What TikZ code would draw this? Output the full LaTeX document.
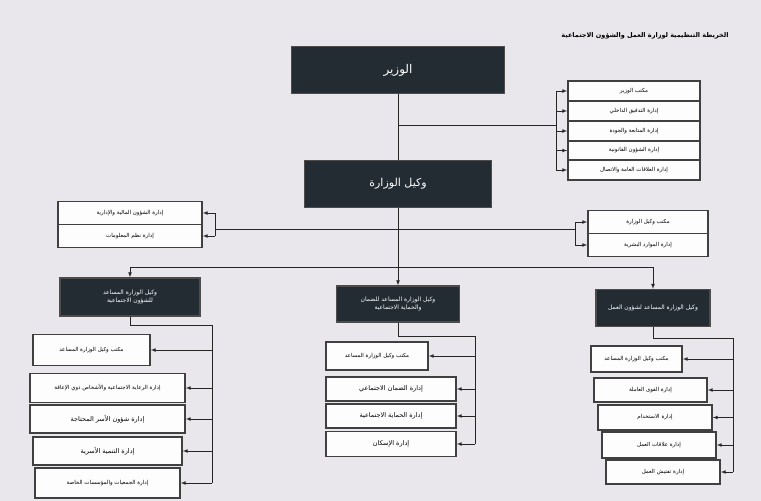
\documentclass[tikz,border=0pt]{standalone}
\usepackage{fontspec}
\usepackage{tikz}
\TeXXeTstate=1
\newfontfamily\arabicfont[Script=Arabic]{DejaVu Sans}
\newcommand{\artxt}[1]{{\arabicfont\beginR #1\endR}}
\definecolor{paper}{HTML}{E9E7EB}
\definecolor{boxdark}{HTML}{232B33}
\tikzset{
  headbox/.style={draw=black!70,line width=1.3pt,fill=boxdark,text=white,inner sep=1pt,align=center},
  unitbox/.style={draw=black!75,line width=1.6pt,fill=white!92!paper,text=black,inner sep=1pt,font=\fontsize{5.5}{6.5}\selectfont},
  link/.style={black!85,line width=0.7pt},
  feed/.style={link,-latex}
}

\begin{document}
\begin{tikzpicture}[x=1pt,y=-1pt]
\fill[paper] (0,0) rectangle (761,501);
\useasboundingbox (0,0) rectangle (761,501);

% title
\node[font=\fontsize{6.5}{7}\selectfont\bfseries] (title) at (645,36) {\artxt{الخريطة التنظيمية لوزارة العمل والشؤون الاجتماعية}};

% minister and deputy
\node[headbox,minimum width=213pt,minimum height=47pt,font=\fontsize{12}{13}\selectfont] (min) at (398,70) {\artxt{الوزير}};
\node[headbox,minimum width=187pt,minimum height=47pt,font=\fontsize{11}{12}\selectfont] (dep) at (398,184) {\artxt{وكيل الوزارة}};
\draw[link] (min.south) -- (dep.north);

% minister's own units
\node[unitbox,minimum width=132pt,minimum height=19.5pt] (r1) at (634,91) {\artxt{مكتب الوزير}};
\node[unitbox,minimum width=132pt,minimum height=19.5pt] (r2) at (634,111) {\artxt{إدارة التدقيق الداخلي}};
\node[unitbox,minimum width=132pt,minimum height=19.5pt] (r3) at (634,131) {\artxt{إدارة المتابعة والجودة}};
\node[unitbox,minimum width=132pt,minimum height=19.5pt] (r4) at (634,150.5) {\artxt{إدارة الشؤون القانونية}};
\node[unitbox,minimum width=132pt,minimum height=19.5pt] (r5) at (634,170) {\artxt{إدارة العلاقات العامة والاتصال}};
\coordinate (mj) at (398,125);
\coordinate (mb) at (556,125);
\draw[link] (mj) -- (mb);
\draw[link] (mb |- r1.west) -- (mb |- r5.west);
\foreach \n in {r1,r2,r3,r4,r5}
  \draw[feed] (mb |- \n.west) -- (\n.west);

% deputy's own units
\node[unitbox,minimum width=144pt,minimum height=23pt] (l1) at (130,213) {\artxt{إدارة الشؤون المالية والإدارية}};
\node[unitbox,minimum width=144pt,minimum height=23pt] (l2) at (130,236) {\artxt{إدارة نظم المعلومات}};
\node[unitbox,minimum width=120pt,minimum height=23pt] (k1) at (648,222) {\artxt{مكتب وكيل الوزارة}};
\node[unitbox,minimum width=120pt,minimum height=23pt] (k2) at (648,245) {\artxt{إدارة الموارد البشرية}};
\coordinate (lb) at (215,229);
\coordinate (kb) at (575,229);
\draw[link] (lb) -- (kb);
\draw[link] (lb |- l1.east) -- (lb |- l2.east);
\draw[link] (kb |- k1.west) -- (kb |- k2.west);
\foreach \n in {l1,l2}
  \draw[feed] (lb |- \n.east) -- (\n.east);
\foreach \n in {k1,k2}
  \draw[feed] (kb |- \n.west) -- (\n.west);

% assistant deputies
\node[headbox,minimum width=140pt,minimum height=38pt,font=\fontsize{6}{8}\selectfont] (a1) at (130,297) {\artxt{وكيل الوزارة المساعد}\\\artxt{للشؤون الاجتماعية}};
\node[headbox,minimum width=123pt,minimum height=36pt,font=\fontsize{6}{8}\selectfont] (a2) at (398,304) {\artxt{وكيل الوزارة المساعد للضمان}\\\artxt{والحماية الاجتماعية}};
\node[headbox,minimum width=114pt,minimum height=37pt,font=\fontsize{6}{8}\selectfont] (a3) at (653,308) {\artxt{وكيل الوزارة المساعد لشؤون العمل}};
\coordinate (split) at (398,267);
\draw[feed] (dep.south) -- (a2.north);
\draw[link] (split -| a1.north) -- (split -| a3.north);
\draw[feed] (split -| a1.north) -- (a1.north);
\draw[feed] (split -| a3.north) -- (a3.north);

% social affairs units
\node[unitbox,minimum width=117pt,minimum height=31pt] (b1) at (91.5,350) {\artxt{مكتب وكيل الوزارة المساعد}};
\node[unitbox,minimum width=155pt,minimum height=29pt] (b2) at (107.5,388) {\artxt{إدارة الرعاية الاجتماعية والأشخاص ذوي الإعاقة}};
\node[unitbox,minimum width=155pt,minimum height=28pt,font=\fontsize{6.5}{7.5}\selectfont] (b3) at (107.5,419) {\artxt{إدارة شؤون الأسر المحتاجة}};
\node[unitbox,minimum width=149pt,minimum height=28pt,font=\fontsize{6.5}{7.5}\selectfont] (b4) at (107.5,451) {\artxt{إدارة التنمية الأسرية}};
\node[unitbox,minimum width=145pt,minimum height=30pt] (b5) at (107.5,483) {\artxt{إدارة الجمعيات والمؤسسات الخاصة}};
\coordinate (bb) at (212,325);
\draw[link] (a1.south) |- (bb) -- (bb |- b5.east);
\foreach \n in {b1,b2,b3,b4,b5}
  \draw[feed] (bb |- \n.east) -- (\n.east);

% social security units
\node[unitbox,minimum width=102pt,minimum height=28pt] (c1) at (377,356) {\artxt{مكتب وكيل الوزارة المساعد}};
\node[unitbox,minimum width=130pt,minimum height=24pt,font=\fontsize{6.5}{7.5}\selectfont] (c2) at (391,389) {\artxt{إدارة الضمان الاجتماعي}};
\node[unitbox,minimum width=130pt,minimum height=24pt,font=\fontsize{6.5}{7.5}\selectfont] (c3) at (391,416) {\artxt{إدارة الحماية الاجتماعية}};
\node[unitbox,minimum width=130pt,minimum height=25pt,font=\fontsize{6.5}{7.5}\selectfont] (c4) at (391,444) {\artxt{إدارة الإسكان}};
\coordinate (cb) at (475,336);
\draw[link] (a2.south) |- (cb) -- (cb |- c4.east);
\foreach \n in {c1,c2,c3,c4}
  \draw[feed] (cb |- \n.east) -- (\n.east);

% labour units
\node[unitbox,minimum width=91pt,minimum height=26pt] (d1) at (636.5,359) {\artxt{مكتب وكيل الوزارة المساعد}};
\node[unitbox,minimum width=113pt,minimum height=24pt] (d2) at (650.5,390) {\artxt{إدارة القوى العاملة}};
\node[unitbox,minimum width=114pt,minimum height=25pt] (d3) at (655,417.5) {\artxt{إدارة الاستخدام}};
\node[unitbox,minimum width=114pt,minimum height=26pt] (d4) at (659,445) {\artxt{إدارة علاقات العمل}};
\node[unitbox,minimum width=114pt,minimum height=24pt] (d5) at (663,472) {\artxt{إدارة تفتيش العمل}};
\coordinate (db) at (733,338);
\draw[link] (a3.south) |- (db) -- (db |- d5.east);
\foreach \n in {d1,d2,d3,d4,d5}
  \draw[feed] (db |- \n.east) -- (\n.east);
\end{tikzpicture}
\end{document}
